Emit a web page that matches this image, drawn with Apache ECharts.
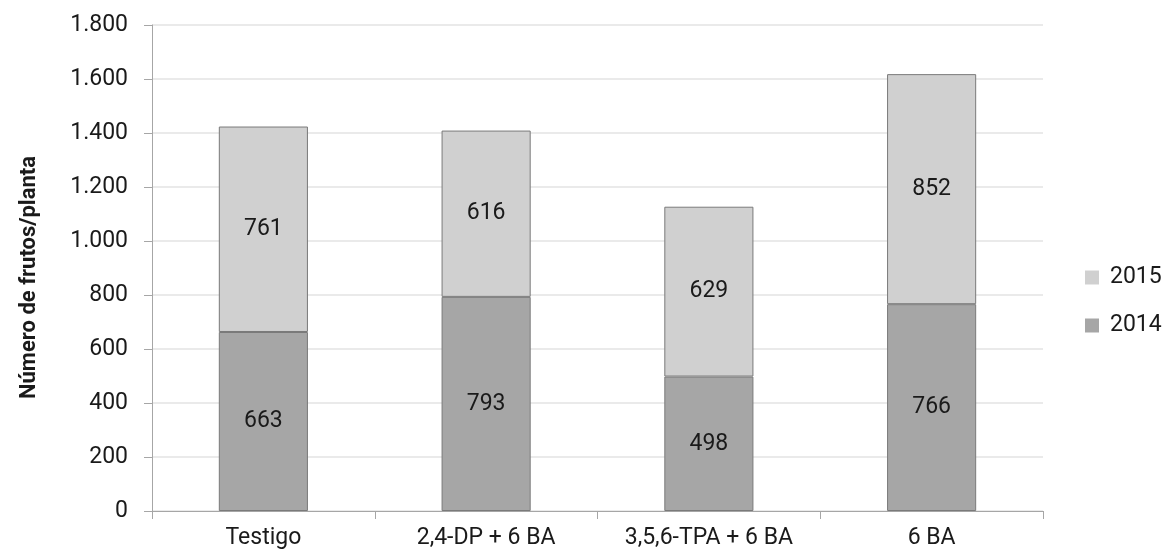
<!DOCTYPE html>
<html>
<head>
<meta charset="utf-8">
<script src="https://cdn.jsdelivr.net/npm/echarts@6/dist/echarts.min.js"></script>
<style>
  html, body { margin: 0; padding: 0; background: #fff; }
  #chart { width: 1166px; height: 555px; }
</style>
</head>
<body>
<div id="chart"></div>
<script>
// Fruits per plant by treatment, stacked by season
const categories = ['Testigo', '2,4-DP + 6 BA', '3,5,6-TPA + 6 BA', '6 BA'];
const values2014 = [663, 793, 498, 766];
const values2015 = [761, 616, 629, 852];
const legendOrder = ['2015', '2014'];
const yAxisTitle = 'Número de frutos/planta';

const fontFam = 'Roboto, "Noto Sans", sans-serif';
const ink = '#1a1a1a';

function fmtThousands(v) {
  return String(v).replace(/\B(?=(\d{3})+(?!\d))/g, '.');
}

const chart = echarts.init(document.getElementById('chart'));
chart.setOption({
  animation: false,
  textStyle: { fontFamily: fontFam },
  grid: { left: 152, right: 123, top: 25, bottom: 44, containLabel: false },
  legend: {
    data: legendOrder,
    orient: 'vertical',
    left: 1080,
    top: 261,
    itemWidth: 14,
    itemHeight: 14,
    itemGap: 25,
    icon: 'rect',
    itemStyle: { borderWidth: 0 },
    textStyle: { fontSize: 23, color: ink, fontFamily: fontFam, padding: [0, 0, 0, 6] }
  },
  xAxis: {
    type: 'category',
    data: categories,
    axisLine: { lineStyle: { color: '#a6a6a6', width: 1 } },
    axisTick: { show: true, length: 8, lineStyle: { color: '#a6a6a6' } },
    axisLabel: { fontSize: 23, color: ink, margin: 16 }
  },
  yAxis: {
    type: 'value',
    min: 0,
    max: 1800,
    interval: 200,
    axisLine: { show: true, lineStyle: { color: '#a6a6a6' } },
    axisTick: { show: true, length: 8, lineStyle: { color: '#a6a6a6' } },
    axisLabel: { fontSize: 23, color: ink, margin: 24, formatter: fmtThousands },
    splitLine: { lineStyle: { color: '#e3e3e3', width: 1.5 } }
  },
  graphic: [{
    type: 'text',
    left: 18,
    top: 'middle',
    rotation: Math.PI / 2,
    originX: 0,
    style: {
      text: yAxisTitle,
      fontSize: 22,
      fontWeight: 'bold',
      fontFamily: fontFam,
      fill: ink
    }
  }],
  series: [
    {
      name: '2014',
      type: 'bar',
      stack: 'total',
      barWidth: '40%',
      data: values2014,
      itemStyle: { color: '#a6a6a6', borderColor: '#7a7a7a', borderWidth: 1 },
      label: { show: true, position: 'inside', fontSize: 23, color: ink }
    },
    {
      name: '2015',
      type: 'bar',
      stack: 'total',
      barWidth: '40%',
      data: values2015,
      itemStyle: { color: '#d0d0d0', borderColor: '#7a7a7a', borderWidth: 1 },
      label: { show: true, position: 'inside', fontSize: 23, color: ink }
    }
  ]
});
</script>
</body>
</html>
